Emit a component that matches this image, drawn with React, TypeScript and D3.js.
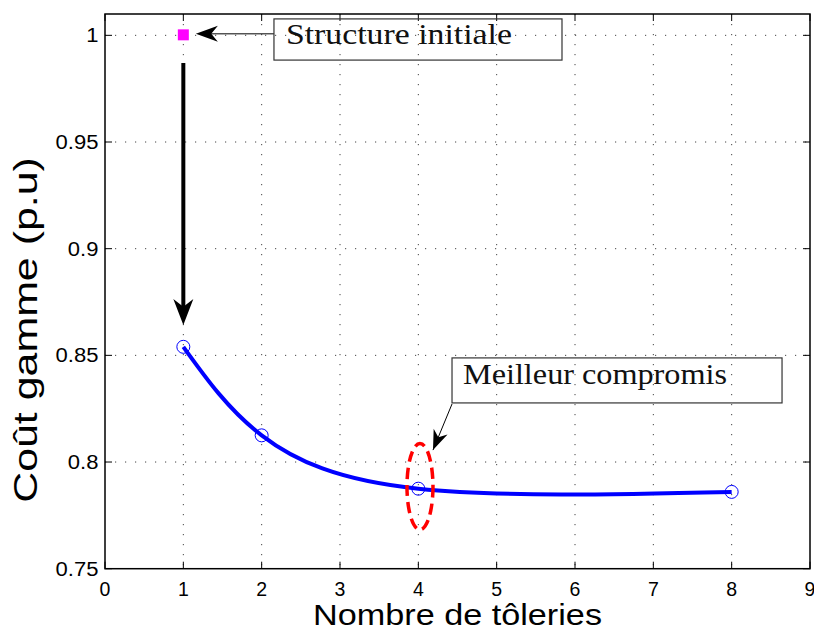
import React from "react";
import * as d3 from "d3";

// ---- data ----
const nbToleries = [1, 2, 4, 8];
const coutGamme = [0.854, 0.8125, 0.7875, 0.786];
const initialX = [1];
const initialY = [1.0];
const xTicks = [0, 1, 2, 3, 4, 5, 6, 7, 8, 9];
const yTicks = [0.75, 0.8, 0.85, 0.9, 0.95, 1];
const xLabel = "Nombre de tôleries";
const yLabel = "Coût gamme (p.u)";
const noteInitial = "Structure initiale";
const noteBest = "Meilleur compromis";

// annotation anchors, in data units
const boxInitial = { x0: 2.157, x1: 5.834, y0: 1.0077, y1: 0.9884 };
const arrowInitial = { x0: 2.157, y0: 1.0007, x1: 1.16, y1: 1.0007 };
const arrowDown = { x0: 1, y0: 0.987, x1: 1, y1: 0.8642 };
const boxBest = { x0: 4.43, x1: 8.643, y0: 0.8488, y1: 0.8277 };
const arrowBest = { x0: 4.43, y0: 0.8272, x1: 4.187, y1: 0.8056 };
const ellipseBest = { cx: 4.021, cy: 0.7885, rx: 0.166, ry: 0.0202 };

const W = 814;
const H = 632;
const left = 105;
const right = 810;
const top = 14;
const bottom = 568.7;

function arrowHead(x1: number, y1: number, x0: number, y0: number, L: number, Wd: number) {
  const a = Math.atan2(y1 - y0, x1 - x0);
  const ux = Math.cos(a), uy = Math.sin(a);
  const px = -uy, py = ux;
  const bx = x1 - ux * L, by = y1 - uy * L;
  const nx = x1 - ux * L * 0.7, ny = y1 - uy * L * 0.7;
  return `M${x1},${y1}L${bx + px * Wd},${by + py * Wd}L${nx},${ny}L${bx - px * Wd},${by - py * Wd}Z`;
}

export default function App() {
  const x = d3.scaleLinear().domain([0, 9]).range([left, right]);
  const y = d3.scaleLinear().domain([0.75, 1.01]).range([bottom, top]);
  const pts = nbToleries.map((v, i) => [v, coutGamme[i]] as [number, number]);
  const line = d3
    .line<[number, number]>()
    .x((d) => x(d[0]))
    .y((d) => y(d[1]))
    .curve(d3.curveNatural);

  const sans = "'Liberation Sans', Arial, Helvetica, sans-serif";
  const serif = "'Liberation Serif', 'Times New Roman', serif";
  const grid = "#444";

  const aI = arrowInitial;
  const aD = arrowDown;
  const aB = arrowBest;

  return (
    <svg width={W} height={H} style={{ position: "absolute", left: 0, top: 0, background: "#fff" }}>
      <rect x={0} y={0} width={W} height={H} fill="#fff" />
      {/* grid */}
      {xTicks.slice(1, -1).map((t) => (
        <line key={"gx" + t} x1={x(t)} x2={x(t)} y1={top} y2={bottom} stroke={grid} strokeWidth={1} strokeDasharray="1.2,8.8" />
      ))}
      {yTicks.slice(1).map((t) => (
        <line key={"gy" + t} x1={left} x2={right} y1={y(t)} y2={y(t)} stroke={grid} strokeWidth={1} strokeDasharray="1.2,8.8" />
      ))}
      {/* ticks */}
      {xTicks.map((t) => (
        <g key={"tx" + t}>
          <line x1={x(t)} x2={x(t)} y1={bottom} y2={bottom - 7} stroke="#000" />
          <line x1={x(t)} x2={x(t)} y1={top} y2={top + 7} stroke="#000" />
          <text x={x(t)} y={bottom + 26.8} textAnchor="middle" fontFamily={sans} fontSize={19.5} fill="#000">
            {t}
          </text>
        </g>
      ))}
      {yTicks.map((t) => (
        <g key={"ty" + t}>
          <line x1={left} x2={left + 7} y1={y(t)} y2={y(t)} stroke="#000" />
          <line x1={right} x2={right - 7} y1={y(t)} y2={y(t)} stroke="#000" />
          <text
            transform={`translate(${left - 6.5},${y(t) + 7}) scale(1.13,1)`}
            textAnchor="end"
            fontFamily={sans}
            fontSize={19.5}
            fill="#000"
          >
            {t}
          </text>
        </g>
      ))}
      {/* box */}
      <rect x={left} y={top} width={right - left} height={bottom - top} fill="none" stroke="#000" strokeWidth={1.5} />

      {/* axis labels */}
      <text
        x={313}
        y={625}
        fontFamily={sans}
        fontSize={29.5}
        textLength={289}
        lengthAdjust="spacingAndGlyphs"
        fill="#000"
      >
        {xLabel}
      </text>
      <text
        transform={`translate(37,330) rotate(-90) scale(1.3,1)`}
        textAnchor="middle"
        fontFamily={sans}
        fontSize={33}
        fill="#000"
      >
        {yLabel}
      </text>

      {/* markers and curve */}
      {pts.map((p, i) => (
        <circle key={"c" + i} cx={x(p[0])} cy={y(p[1])} r={6.5} fill="none" stroke="#0000ff" strokeWidth={1} />
      ))}
      <path d={line(pts) || ""} fill="none" stroke="#0000ff" strokeWidth={4} />

      {/* initial structure */}
      {initialX.map((v, i) => (
        <rect key={"m" + i} x={x(v) - 5.5} y={y(initialY[i]) - 6} width={11} height={11} fill="#ff00ff" />
      ))}

      {/* thick arrow down */}
      <line x1={x(aD.x0)} y1={y(aD.y0)} x2={x(aD.x1)} y2={y(aD.y1) - 18} stroke="#000" strokeWidth={4} />
      <path d={arrowHead(x(aD.x1), y(aD.y1), x(aD.x0), y(aD.y0), 26, 10)} fill="#000" />

      {/* Structure initiale annotation */}
      <line x1={x(aI.x0)} y1={y(aI.y0)} x2={x(aI.x1) + 15} y2={y(aI.y1)} stroke="#000" strokeWidth={1} />
      <path d={arrowHead(x(aI.x1), y(aI.y1), x(aI.x0), y(aI.y0), 22, 8)} fill="#000" />
      <rect
        x={x(boxInitial.x0)}
        y={y(boxInitial.y0)}
        width={x(boxInitial.x1) - x(boxInitial.x0)}
        height={y(boxInitial.y1) - y(boxInitial.y0)}
        fill="#fff"
        fillOpacity={0}
        stroke="#333"
        strokeWidth={1.2}
      />
      <text
        x={x(boxInitial.x0) + 12}
        y={y(boxInitial.y0) + 25}
        fontFamily={serif}
        fontSize={30}
        textLength={226}
        lengthAdjust="spacingAndGlyphs"
        fill="#111"
      >
        {noteInitial}
      </text>

      {/* Meilleur compromis annotation */}
      <line x1={x(aB.x0)} y1={y(aB.y0)} x2={x(aB.x1)} y2={y(aB.y1)} stroke="#000" strokeWidth={1} />
      <path d={arrowHead(x(aB.x1), y(aB.y1), x(aB.x0), y(aB.y0), 20, 7.5)} fill="#000" />
      <rect
        x={x(boxBest.x0)}
        y={y(boxBest.y0)}
        width={x(boxBest.x1) - x(boxBest.x0)}
        height={y(boxBest.y1) - y(boxBest.y0)}
        fill="#fff"
        fillOpacity={0}
        stroke="#333"
        strokeWidth={1.2}
      />
      <text
        x={x(boxBest.x0) + 11}
        y={y(boxBest.y0) + 26}
        fontFamily={serif}
        fontSize={30}
        textLength={264}
        lengthAdjust="spacingAndGlyphs"
        fill="#111"
      >
        {noteBest}
      </text>
      <ellipse
        cx={x(ellipseBest.cx)}
        cy={y(ellipseBest.cy)}
        rx={x(ellipseBest.rx) - x(0)}
        ry={y(0.75) - y(0.75 + ellipseBest.ry)}
        fill="none"
        stroke="#ff0000"
        strokeWidth={3.5}
        strokeDasharray="11,6"
      />
    </svg>
  );
}
